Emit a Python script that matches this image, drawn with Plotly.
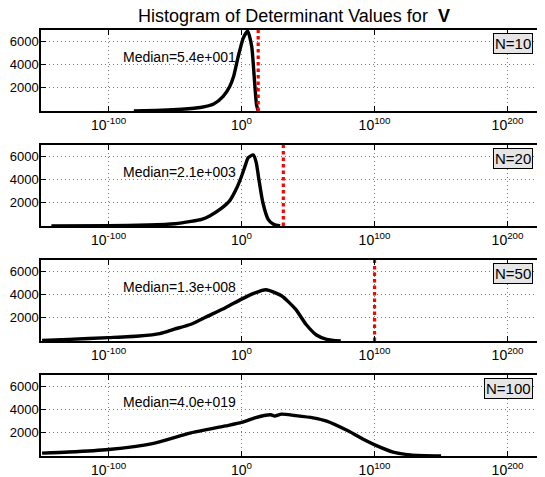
import plotly.graph_objects as go

# ---- data (log10 of determinant, histogram counts) ----
N_labels = ["N=10", "N=20", "N=50", "N=100"]
medians = ["5.4e+001", "2.1e+003", "1.3e+008", "4.0e+019"]
mean_log10 = [12.5, 31.4, 100.0, None]

n10_logx = [-81, -60, -45, -31, -21, -14, -9, -6, -2.5, 1.3, 4.6, 7.6, 9.5, 11.3, 12.6]
n10_count = [0, 60, 150, 300, 600, 1240, 2100, 2980, 4720, 6300, 6900, 5600, 2980, 500, 0]

n20_logx = [-143, -100, -70, -50, -38, -30, -24, -16, -9, -4, 0, 3, 5, 8.8, 11, 12.6, 16, 20, 24, 29]
n20_count = [0, 20, 80, 200, 400, 580, 870, 1450, 2170, 3190, 4300, 5300, 5900, 6150, 5500, 4350, 2030, 580, 150, 0]

n50_logx = [-150, -130, -100, -77, -61.5, -51, -38, -25, -11.8, 0, 9.2, 18.3, 30, 40.6, 48.4, 56.3, 64, 74.6]
n50_count = [50, 140, 290, 430, 640, 1010, 1450, 2170, 2900, 3620, 4120, 4430, 3910, 2750, 1450, 520, 145, 0]

n100_logx = [-150, -130, -100, -67, -38, -12, 0, 10, 17, 22, 25, 30, 40, 53.7, 64, 80, 93, 101, 114, 127, 150]
n100_count = [250, 340, 560, 1070, 2000, 2600, 2900, 3300, 3500, 3560, 3450, 3620, 3500, 3300, 3020, 2180, 1360, 920, 340, 100, 0]

series_logx = [n10_logx, n20_logx, n50_logx, n100_logx]
series_count = [n10_count, n20_count, n50_count, n100_count]

tick_exps = [-100, 0, 100, 200]
y_ticks = [2000, 4000, 6000]

# ---- layout geometry (page body has an 8px margin, so the figure is offset) ----
OFF = 8
W, H = 545 - OFF, 477 - OFF
L, R = 41 - OFF, 1
x_range = [-150.8, 227.4]
y_range = [0, 7000]
panel_px = [(30 - OFF, 111 - OFF), (145 - OFF, 226 - OFF), (260 - OFF, 341 - OFF), (375 - OFF, 456 - OFF)]

fig = go.Figure()
font_fam = "Liberation Sans, Arial, Helvetica, sans-serif"

for i in range(4):
    xa = "x" if i == 0 else f"x{i+1}"
    ya = "y" if i == 0 else f"y{i+1}"
    xs = [10.0 ** v for v in series_logx[i]]
    fig.add_trace(go.Scatter(x=xs, y=series_count[i], mode="lines",
                             line=dict(color="black", width=3.4, shape="spline", smoothing=0.6),
                             xaxis=xa, yaxis=ya, showlegend=False, hoverinfo="skip"))
    if mean_log10[i] is not None:
        m = 10.0 ** mean_log10[i]
        fig.add_trace(go.Scatter(x=[m, m], y=y_range, mode="lines",
                                 line=dict(color="red", width=3.2, dash="3.5px,3px"),
                                 xaxis=xa, yaxis=ya, showlegend=False, hoverinfo="skip"))
    top, bot = panel_px[i]
    dom = [1 - bot / H, 1 - top / H]
    xkey = "xaxis" if i == 0 else f"xaxis{i+1}"
    ykey = "yaxis" if i == 0 else f"yaxis{i+1}"
    fig.layout[xkey] = dict(
        type="log", range=x_range, domain=[0, 1], anchor=ya,
        tickvals=[10.0 ** e for e in tick_exps],
        ticktext=[f"10<sup>{e}</sup>" for e in tick_exps],
        showgrid=True, gridcolor="#777", griddash="1px,3px", gridwidth=1,
        showline=True, linecolor="black", linewidth=1.5, mirror="ticks",
        ticks="inside", ticklen=5, tickcolor="black",
        tickfont=dict(size=14, color="black", family=font_fam),
        zeroline=False, automargin=False, fixedrange=True,
    )
    fig.layout[ykey] = dict(
        range=y_range, domain=dom, anchor=xa,
        tickvals=y_ticks, ticktext=[str(v) for v in y_ticks],
        showgrid=True, gridcolor="#777", griddash="1px,3px", gridwidth=1,
        showline=True, linecolor="black", linewidth=1.5, mirror="ticks",
        ticks="inside", ticklen=5, tickcolor="black", ticklabelstandoff=-2,
        tickfont=dict(size=13, color="black", family=font_fam),
        zeroline=False, automargin=False, fixedrange=True,
    )
    fig.add_annotation(xref=f"{xa} domain", yref=f"{ya} domain", x=0.16, y=0.667,
                       xanchor="left", yanchor="middle", showarrow=False,
                       text=f"Median={medians[i]}",
                       font=dict(size=14, color="black", family=font_fam))
    fig.add_annotation(xref=f"{xa} domain", yref=f"{ya} domain", x=0.979, y=0.833,
                       xanchor="right", yanchor="middle", showarrow=False,
                       text=N_labels[i], bgcolor="#e5e5e5", bordercolor="black",
                       borderwidth=1, borderpad=1,
                       font=dict(size=15, color="black", family=font_fam))

fig.update_layout(
    width=W, height=H,
    margin=dict(l=L, r=R, t=0, b=0),
    paper_bgcolor="white", plot_bgcolor="white",
    title=dict(text="Histogram of Determinant Values for  <b>V</b>",
               x=(294 - OFF) / W, xref="container", xanchor="center",
               y=1 - (16 - OFF) / H, yref="container", yanchor="middle",
               font=dict(size=18, color="black", family=font_fam)),
)

fig.write_html("out.html")
